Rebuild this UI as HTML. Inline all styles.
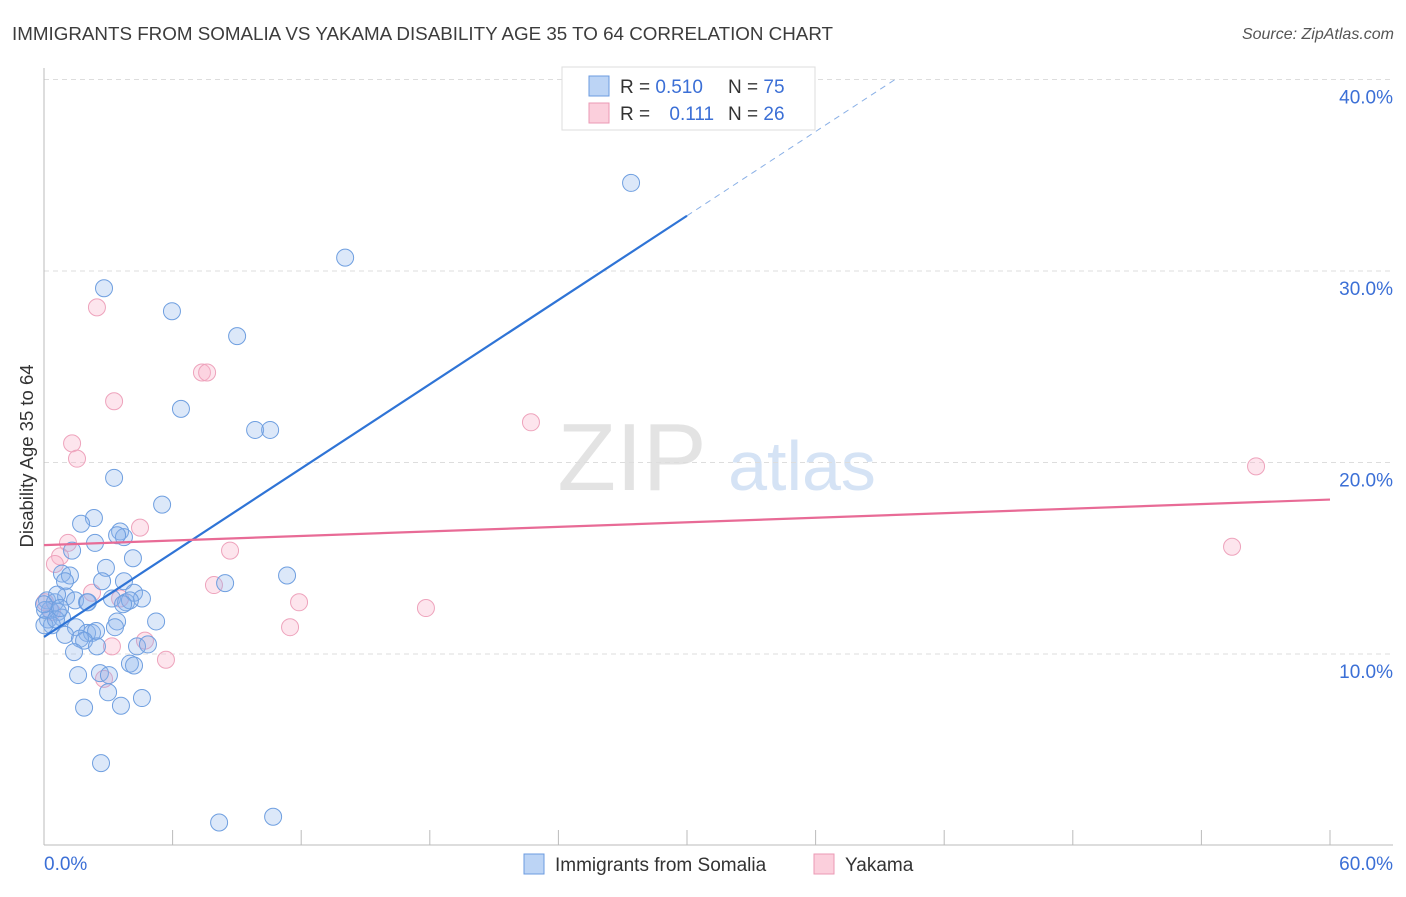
<!DOCTYPE html>
<html><head><meta charset="utf-8"><style>
body{margin:0;background:#fff;font-family:"Liberation Sans",sans-serif;}
svg text{font-family:"Liberation Sans",sans-serif;}
</style></head><body>
<svg id="chart" width="1406" height="892" viewBox="0 0 1406 892" xmlns="http://www.w3.org/2000/svg">
<text x="12" y="40" font-size="18.8" fill="#3c3c3c">IMMIGRANTS FROM SOMALIA VS YAKAMA DISABILITY AGE 35 TO 64 CORRELATION CHART</text>
<text x="1394" y="39" font-size="16" fill="#555" font-style="italic" text-anchor="end">Source: ZipAtlas.com</text>
<g>
<text x="632" y="490" font-size="96" fill="#e3e3e3" text-anchor="middle" font-family="Liberation Serif">ZIP</text>
<text x="802" y="490" font-size="70" fill="#d5e3f5" text-anchor="middle">atlas</text>
</g>
<g id="grid"></g>
<g id="axes"></g>
<g id="pts"></g>
<g id="trend"></g>
<g>
<rect x="562" y="67" width="253" height="63" fill="#fff" stroke="#ddd"/>
<rect x="589" y="76" width="20" height="20" fill="#bcd4f5" stroke="#6b9be0"/>
<rect x="589" y="103" width="20" height="20" fill="#fbcfdc" stroke="#eb9ab4"/>
<text x="620" y="93" font-size="19" fill="#333">R = <tspan fill="#3b6fd6">0.510</tspan></text>
<text x="728" y="93" font-size="19" fill="#333">N = <tspan fill="#3b6fd6">75</tspan></text>
<text x="620" y="120" font-size="19" fill="#333">R = <tspan fill="#3b6fd6" dx="14">0.111</tspan></text>
<text x="728" y="120" font-size="19" fill="#333">N = <tspan fill="#3b6fd6">26</tspan></text>
</g>
<g>
<rect x="524" y="854" width="20" height="20" fill="#bcd4f5" stroke="#6b9be0"/>
<text x="555" y="871" font-size="19" fill="#333">Immigrants from Somalia</text>
<rect x="814" y="854" width="20" height="20" fill="#fbcfdc" stroke="#eb9ab4"/>
<text x="845" y="871" font-size="19" fill="#333">Yakama</text>
</g>
<text transform="translate(33,456) rotate(-90)" font-size="18.5" fill="#333" text-anchor="middle">Disability Age 35 to 64</text>
</svg>
<script>
const yTicks=[10,20,30,40];
const somaliaX=[2.80,5.97,9.01,14.05,27.39,6.39,9.85,10.55,3.27,5.51,2.33,1.73,3.55,3.73,3.41,2.38,1.31,4.15,2.89,0.84,1.21,0.98,2.71,3.73,8.45,11.34,0.14,0.51,1.03,1.45,2.01,3.17,3.83,4.20,4.57,4.01,3.69,0.28,0.65,0.19,0.84,0.37,1.49,0.98,2.01,2.24,2.43,1.68,1.87,3.41,3.31,5.23,4.34,4.85,2.47,1.40,2.61,1.59,3.03,2.99,4.01,4.20,1.87,3.59,4.57,2.66,8.17,10.69,0.05,0.02,0.61,2.05,0.0,0.56,0.75];
const somaliaY=[29.1,27.9,26.6,30.7,34.6,22.8,21.7,21.7,19.2,17.8,17.1,16.8,16.4,16.1,16.2,15.8,15.4,15.0,14.5,14.2,14.1,13.8,13.8,13.8,13.7,14.1,12.8,12.7,13.0,12.8,12.7,12.9,12.7,13.2,12.9,12.8,12.6,12.3,12.2,11.8,11.9,11.5,11.4,11.0,11.1,11.1,11.2,10.8,10.7,11.7,11.4,11.7,10.4,10.5,10.4,10.1,9.0,8.9,8.9,8.0,9.5,9.4,7.2,7.3,7.7,4.3,1.2,1.5,12.3,11.5,13.1,12.7,12.6,11.8,12.4];
const yakamaX=[2.47,7.37,7.61,3.27,1.31,1.54,22.72,4.48,1.12,0.75,0.51,8.68,56.55,55.43,7.93,11.90,17.82,11.48,2.24,3.55,4.71,5.69,3.17,2.80,0.05,0.37];
const yakamaY=[28.1,24.7,24.7,23.2,21.0,20.2,22.1,16.6,15.8,15.1,14.7,15.4,19.8,15.6,13.6,12.7,12.4,11.4,13.2,12.9,10.7,9.7,10.4,8.7,12.7,12.2];

const NS="http://www.w3.org/2000/svg";
const X0=44,X1=1330,Y0=845.5,YPER=19.15;
function sx(v){return X0+(v/60)*(X1-X0);}
function sy(v){return Y0-v*YPER;}
function mk(tag,attrs,parent){const e=document.createElementNS(NS,tag);for(const k in attrs)e.setAttribute(k,attrs[k]);parent.appendChild(e);return e;}
const grid=document.getElementById('grid'),axes=document.getElementById('axes'),pts=document.getElementById('pts'),trend=document.getElementById('trend');
yTicks.forEach(t=>{
  const l=mk('line',{x1:X0,x2:1393,y1:sy(t),y2:sy(t),stroke:'#ddd','stroke-dasharray':'5,4'},grid);
  
  
  const tx=mk('text',{x:1393,y:sy(t)+24,'font-size':19,fill:'#3b6fd6','text-anchor':'end'},axes);
  tx.textContent=t.toFixed(1)+'%';
  
  
});
const ax=mk('line',{x1:X0,x2:1393,y1:845,y2:845,stroke:'#bbb'},axes);


const ay=mk('line',{x1:X0,x2:X0,y1:68,y2:845,stroke:'#bbb'},axes);


for(let t=0;t<=60;t+=6){
  const tk=mk('line',{x1:sx(t),x2:sx(t),y1:830,y2:845,stroke:'#bbb'},axes);
  
  
}
[[0,'0.0%','start',44],[60,'60.0%','end',1393]].forEach(a=>{
  const tx=mk('text',{x:a[3],y:870,'font-size':19,fill:'#3b6fd6','text-anchor':a[2]},axes);
  tx.textContent=a[1];
  
  
});
function draw(xs,ys,fill,stroke,name){
  xs.forEach((x,i)=>{
    const c=mk('circle',{cx:sx(x),cy:sy(ys[i]),r:8.5,fill:fill,stroke:stroke,'stroke-width':1},pts);
    
    
  });
}
draw(yakamaX,yakamaY,'rgba(248,180,204,0.35)','#eea3bc','point-yakama');
draw(somaliaX,somaliaY,'rgba(140,180,235,0.3)','#6f9fe0','point-somalia');
function fit(xs,ys){const n=xs.length;let mx=0,my=0;xs.forEach((x,i)=>{mx+=x;my+=ys[i];});mx/=n;my/=n;let sxy=0,sxx=0;xs.forEach((x,i)=>{sxy+=(x-mx)*(ys[i]-my);sxx+=(x-mx)*(x-mx);});const b=sxy/sxx;return [my-b*mx,b];}
const fb=fit(somaliaX,somaliaY),fp=fit(yakamaX,yakamaY);
const bEnd=Math.ceil(Math.max(...somaliaX)/10)*10;
let l=mk('line',{x1:sx(0),y1:sy(fb[0]),x2:sx(bEnd),y2:sy(fb[0]+fb[1]*bEnd),stroke:'#2f74d6','stroke-width':2.2},trend);


const xe=Math.min(60,(40-fb[0])/fb[1]);
l=mk('line',{x1:sx(bEnd),y1:sy(fb[0]+fb[1]*bEnd),x2:sx(xe),y2:sy(fb[0]+fb[1]*xe),stroke:'#8ab0e6','stroke-width':1,'stroke-dasharray':'6,5'},trend);


l=mk('line',{x1:sx(0),y1:sy(fp[0]),x2:sx(60),y2:sy(fp[0]+fp[1]*60),stroke:'#e86b96','stroke-width':2.2},trend);


</script>
</body></html>
